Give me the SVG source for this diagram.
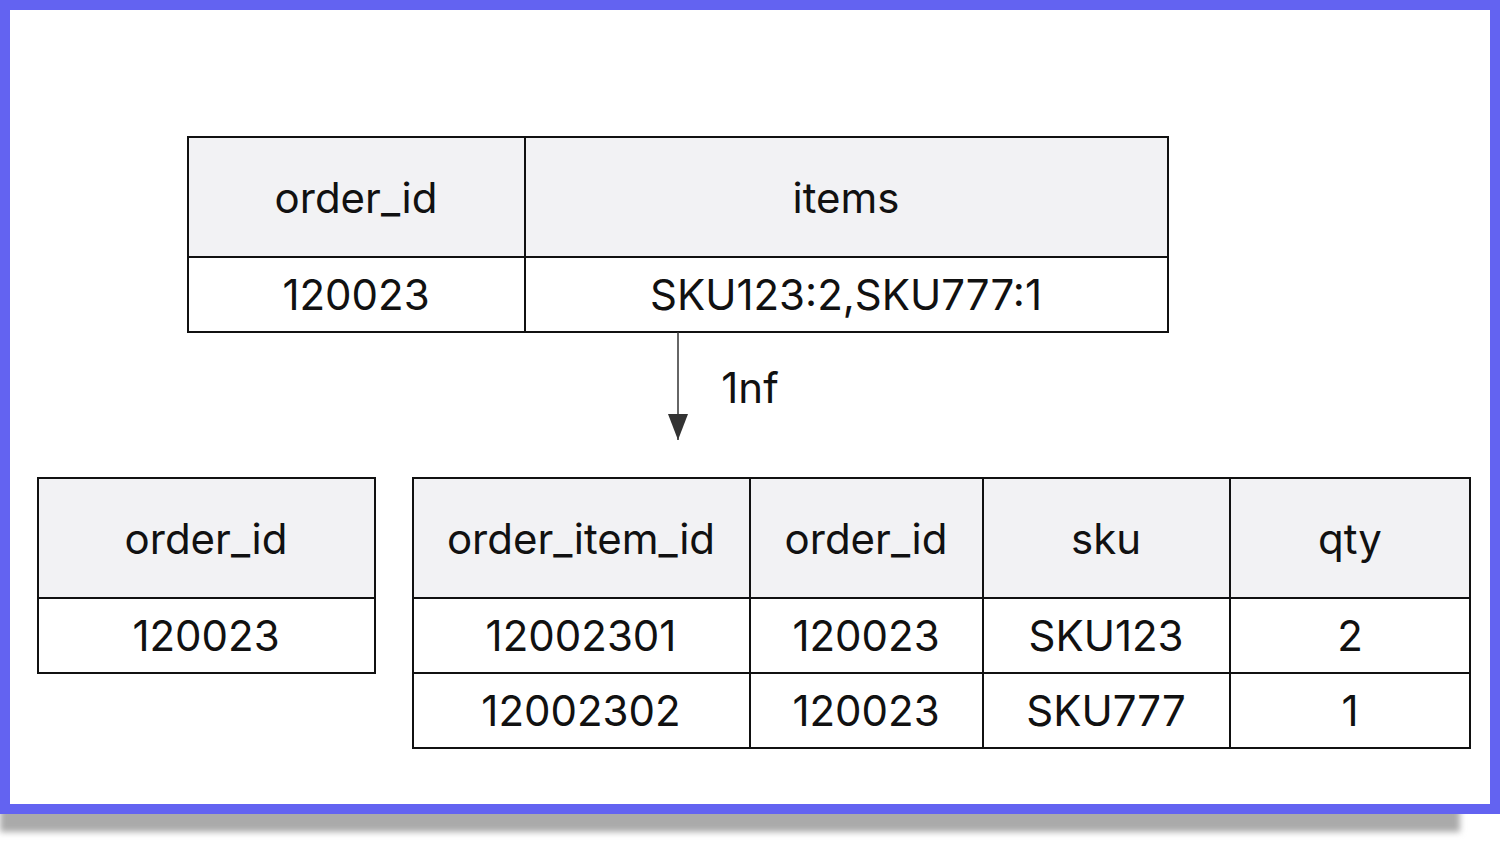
<svg xmlns="http://www.w3.org/2000/svg" width="1500" height="848" viewBox="0 0 1500 848">
<defs>
<filter id="blur" x="-5%" y="-5%" width="110%" height="110%"><feGaussianBlur stdDeviation="3"/></filter>
<marker id="arr" viewBox="0 0 26 20" refX="26" refY="10" markerWidth="26" markerHeight="20" markerUnits="userSpaceOnUse" orient="auto">
<path d="M0,0 L26,10 L0,20 Z" fill="#333"/>
</marker>
</defs>
<style>
.hd{fill:#f2f2f4;stroke:none}
.bd{fill:#ffffff;stroke:none}
.ln{stroke:#111;stroke-width:2;fill:none}
text{font-family:Inter,"Liberation Sans",sans-serif;font-size:42px;fill:#111;text-anchor:middle;dominant-baseline:central}
</style>
<rect x="0" y="20" width="1460" height="812" fill="#aaa" filter="url(#blur)"/>
<rect x="0" y="0" width="1500" height="814" fill="#6363f1"/>
<rect x="10" y="10" width="1480" height="794" fill="#fff"/>

<g id="table-orders">
<rect class="hd" x="188" y="137" width="980" height="120"/>
<rect class="bd" x="188" y="257" width="980" height="75"/>
<path class="ln" d="M188,137H1168V332H188Z M188,257H1168 M525,137V332"/>
<text x="356" y="197">order_id</text>
<text x="846" y="197">items</text>
<text x="356" y="294">120023</text>
<text x="846" y="294">SKU123:2,SKU777:1</text>
</g>

<g id="connectors">
<line x1="678" y1="332" x2="678" y2="440" stroke="#333" stroke-width="1.5" marker-end="url(#arr)"/>
<text x="750" y="387">1nf</text>
</g>

<g id="table-orders-1nf">
<rect class="hd" x="38" y="478" width="337" height="120"/>
<rect class="bd" x="38" y="598" width="337" height="75"/>
<path class="ln" d="M38,478H375V673H38Z M38,598H375"/>
<text x="206" y="538">order_id</text>
<text x="206" y="635">120023</text>
</g>

<g id="table-order-items">
<rect class="hd" x="413" y="478" width="1057" height="120"/>
<rect class="bd" x="413" y="598" width="1057" height="150"/>
<path class="ln" d="M413,478H1470V748H413Z M413,598H1470 M413,673H1470 M750,478V748 M983,478V748 M1230,478V748"/>
<text x="581" y="538">order_item_id</text>
<text x="866" y="538">order_id</text>
<text x="1106" y="538">sku</text>
<text x="1350" y="538">qty</text>
<text x="581" y="635">12002301</text>
<text x="866" y="635">120023</text>
<text x="1106" y="635">SKU123</text>
<text x="1350" y="635">2</text>
<text x="581" y="710">12002302</text>
<text x="866" y="710">120023</text>
<text x="1106" y="710">SKU777</text>
<text x="1350" y="710">1</text>
</g>
</svg>
